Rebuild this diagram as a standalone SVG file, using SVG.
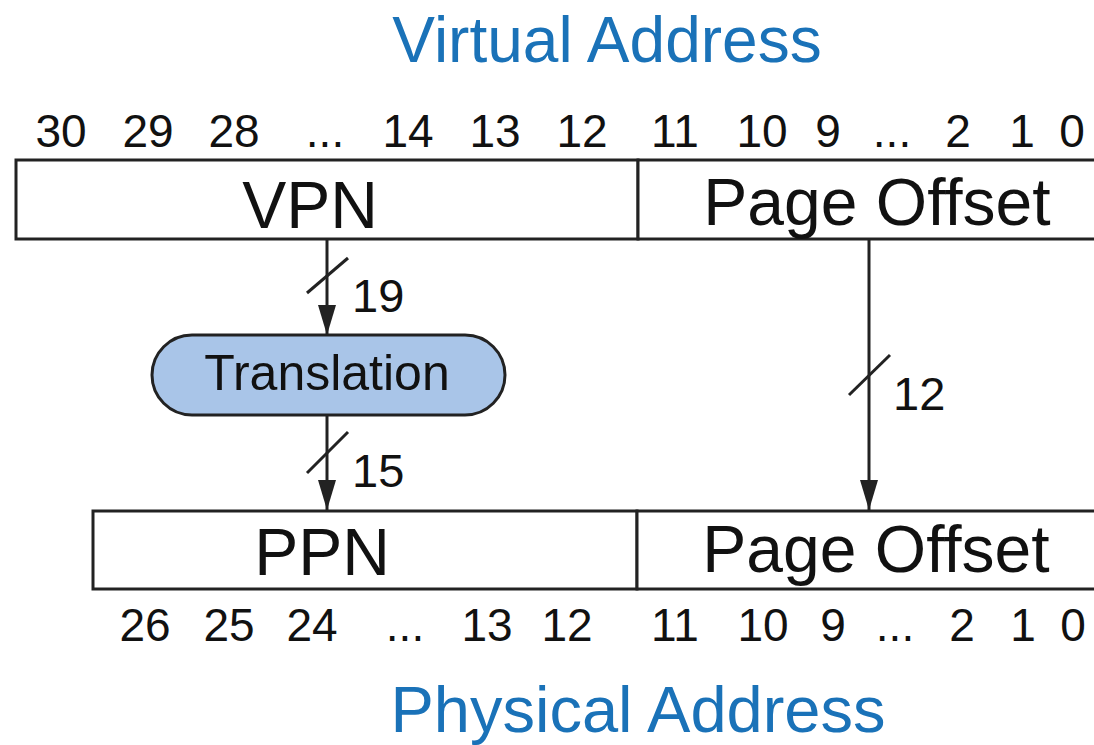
<svg xmlns="http://www.w3.org/2000/svg" width="1094" height="745" viewBox="0 0 1094 745">
<style>
text{font-family:"Liberation Sans",Arial,Helvetica,sans-serif;fill:#111}
.title{font-size:64px;fill:#1a72b8;text-anchor:middle}
.big{font-size:66px;text-anchor:middle}
.num{font-size:46px;text-anchor:middle}
.lbl{font-size:47px}
.box{fill:#fff;stroke:#222;stroke-width:3}
.wire{stroke:#222;stroke-width:3;fill:none}
.slash{stroke:#222;stroke-width:3}
</style>
<defs>
<marker id="arr" markerUnits="userSpaceOnUse" markerWidth="32" markerHeight="18" refX="30" refY="9" orient="auto">
<path d="M0,0 L30,9 L0,18 Z" fill="#222"/>
</marker>
</defs>
<rect width="1094" height="745" fill="#fff"/>
<text class="title" x="607" y="62">Virtual Address</text>
<text class="title" style="font-size:65px" x="638" y="732">Physical Address</text>
<g id="va-bits">
<text class="num" x="61" y="147">30</text>
<text class="num" x="148" y="147">29</text>
<text class="num" x="234" y="147">28</text>
<text class="num" x="325" y="147">...</text>
<text class="num" x="408" y="147">14</text>
<text class="num" x="495" y="147">13</text>
<text class="num" x="582" y="147">12</text>
<text class="num" x="675" y="147">11</text>
<text class="num" x="762" y="147">10</text>
<text class="num" x="828" y="147">9</text>
<text class="num" x="892" y="147">...</text>
<text class="num" x="958" y="147">2</text>
<text class="num" x="1022" y="147">1</text>
<text class="num" x="1072" y="147">0</text>
</g>
<g id="vpn">
<rect class="box" x="16" y="160" width="622" height="79"/>
<text class="big" x="310" y="228">VPN</text>
</g>
<g id="va-offset">
<rect class="box" x="638" y="160" width="470" height="79"/>
<text class="big" x="877" y="225">Page Offset</text>
</g>
<g id="translation">
<rect x="152" y="335" width="353" height="80" rx="40" ry="40" fill="#a9c5e8" stroke="#222" stroke-width="3"/>
<text class="big" style="font-size:50px" x="327" y="390">Translation</text>
</g>
<g id="ppn">
<rect class="box" x="93" y="511" width="544" height="78"/>
<text class="big" x="322" y="575">PPN</text>
</g>
<g id="pa-offset">
<rect class="box" x="637" y="511" width="470" height="78"/>
<text class="big" x="876" y="572">Page Offset</text>
</g>
<g id="pa-bits">
<text class="num" x="145" y="641">26</text>
<text class="num" x="229" y="641">25</text>
<text class="num" x="312" y="641">24</text>
<text class="num" x="405" y="641">...</text>
<text class="num" x="487" y="641">13</text>
<text class="num" x="567" y="641">12</text>
<text class="num" x="675" y="641">11</text>
<text class="num" x="763" y="641">10</text>
<text class="num" x="833" y="641">9</text>
<text class="num" x="895" y="641">...</text>
<text class="num" x="962" y="641">2</text>
<text class="num" x="1023" y="641">1</text>
<text class="num" x="1073" y="641">0</text>
</g>
<g id="connectors">
<line class="wire" x1="327" y1="239" x2="327" y2="335" marker-end="url(#arr)"/>
<line class="slash" x1="307" y1="293" x2="348" y2="258"/>
<text class="lbl" x="352" y="312">19</text>
<line class="wire" x1="327" y1="415" x2="327" y2="510" marker-end="url(#arr)"/>
<line class="slash" x1="307" y1="473" x2="348" y2="432"/>
<text class="lbl" x="352" y="487">15</text>
<line class="wire" x1="869" y1="239" x2="869" y2="510" marker-end="url(#arr)"/>
<line class="slash" x1="849" y1="395" x2="890" y2="355"/>
<text class="lbl" x="893" y="410">12</text>
</g>
</svg>
